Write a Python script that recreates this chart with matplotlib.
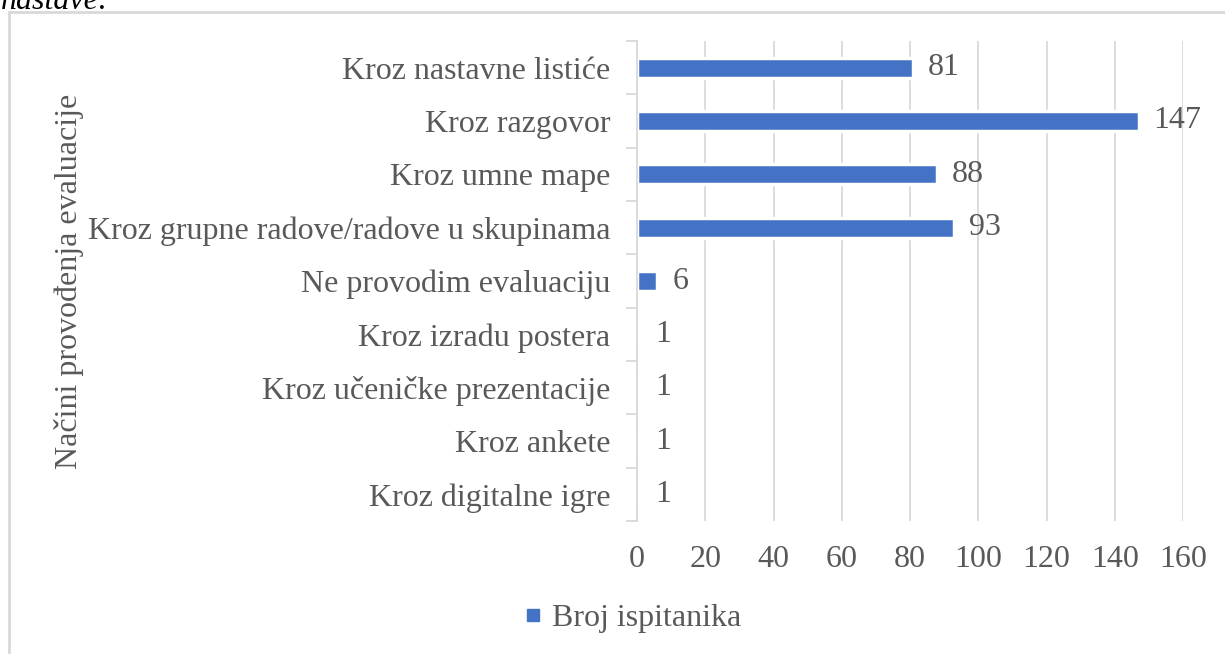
import matplotlib.pyplot as plt
from matplotlib.patches import Rectangle
from matplotlib.lines import Line2D

categories = ['Kroz nastavne listiće', 'Kroz razgovor', 'Kroz umne mape',
              'Kroz grupne radove/radove u skupinama', 'Ne provodim evaluaciju',
              'Kroz izradu postera', 'Kroz učeničke prezentacije', 'Kroz ankete',
              'Kroz digitalne igre']
values = [81, 147, 88, 93, 6, 1, 1, 1, 1]
xticks = [0, 20, 40, 60, 80, 100, 120, 140, 160]

BLUE = '#4472C4'
TXT = '#595959'
GRID = '#D9D9D9'
FS = 23

plt.rcParams['font.family'] = ['Liberation Serif', 'DejaVu Serif']

W, H = 1225, 654
fig = plt.figure(figsize=(W / 100, H / 100), dpi=100)

# outer chart frame (cut by the page)
fig.patches.append(Rectangle((9 / W, -0.05), 1.1, 1 - 12 / H + 0.05,
                             transform=fig.transFigure, fill=False,
                             edgecolor='#D9D9D9', linewidth=2, zorder=0))
# end of the caption line above the chart, cut at the top of the picture
fig.text(0.001, 1 - 9 / H, 'nastave:', fontsize=FS, style='italic',
         color='black', va='baseline', ha='left')

ax = fig.add_axes([637 / W, 1 - 521 / H, (1183 - 637) / W, (521 - 41) / H])

n = len(categories)
pos = list(range(n))[::-1]
# white bar edges like the original (hides the tiny bars of value 1)
ax.barh(pos, values, height=0.38, color=BLUE, edgecolor='white', linewidth=2.5, zorder=2)
for p, v in zip(pos, values):
    ax.text(v + 4.3, p, str(v), va='center', ha='left', fontsize=FS, color=TXT)

ax.set_xlim(0, 160)
ax.set_ylim(-0.5, n - 0.5)
ax.set_xticks(xticks)
ax.set_xticklabels([str(t) for t in xticks], fontsize=FS, color=TXT)
ax.tick_params(axis='x', length=0, pad=17)
ax.xaxis.grid(True, color=GRID, linewidth=1.3)
ax.set_axisbelow(True)

ax.set_yticks(pos)
ax.set_yticklabels(categories, fontsize=FS, color=TXT)
ax.tick_params(axis='y', length=0, pad=19)
# boundary tick marks on the category axis
ax.set_yticks([i - 0.5 for i in range(n + 1)], minor=True)
ax.tick_params(axis='y', which='minor', length=8, color=GRID, width=1.3)

for s in ['top', 'right', 'bottom']:
    ax.spines[s].set_visible(False)
ax.spines['left'].set_color(GRID)
ax.spines['left'].set_linewidth(1.3)

ax.set_ylabel('Načini provođenja evaluacije', fontsize=FS, color=TXT)
ax.yaxis.set_label_coords((84 - 637) / (1183 - 637), 0.5)

handle = Line2D([], [], marker='s', color=BLUE, linestyle='none', markersize=9)
fig.legend([handle], ['Broj ispitanika'], loc='center', bbox_to_anchor=(629 / W, 1 - 618 / H),
           frameon=False, fontsize=FS, labelcolor=TXT, handletextpad=0.1, handlelength=1.0)

fig.savefig('out.png', dpi=100)
